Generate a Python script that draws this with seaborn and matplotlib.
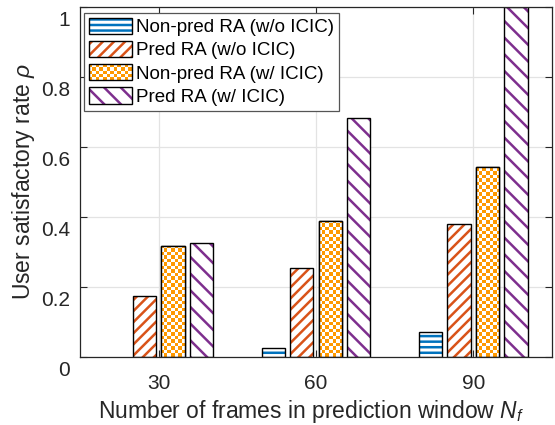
import numpy as np
import pandas as pd
import matplotlib
matplotlib.use("Agg")
import matplotlib.pyplot as plt
import seaborn as sns
from matplotlib.patches import Rectangle
from matplotlib.transforms import ScaledTranslation
from matplotlib.legend_handler import HandlerBase
from matplotlib.colors import ListedColormap

# ---- data ----
frames = ["30", "60", "90"]
series = ["Non-pred RA (w/o ICIC)", "Pred RA (w/o ICIC)",
          "Non-pred RA (w/ ICIC)", "Pred RA (w/ ICIC)"]
nonpred_wo = [0.0, 0.025, 0.072]
pred_wo = [0.174, 0.253, 0.379]
nonpred_w = [0.317, 0.389, 0.542]
pred_w = [0.326, 0.682, 0.999]
yticks = [0, 0.2, 0.4, 0.6, 0.8, 1]
ytick_labels = ["0", "0.2", "0.4", "0.6", "0.8", "1"]

colors = ["#0072BD", "#D95319", "#FF9900", "#7E2F8E"]
hatches = ["---", "///", None, "\\\\"]

rows = []
for s, vals in zip(series, [nonpred_wo, pred_wo, nonpred_w, pred_w]):
    for f, v in zip(frames, vals):
        rows.append({"frame": f, "series": s, "rate": v})
df = pd.DataFrame(rows)

sns.set_theme(style="white")
plt.rcParams["font.family"] = ["Liberation Sans", "DejaVu Sans"]
plt.rcParams["mathtext.fontset"] = "custom"
plt.rcParams["mathtext.it"] = "Liberation Sans:italic"
plt.rcParams["mathtext.rm"] = "Liberation Sans"
plt.rcParams["hatch.linewidth"] = 1.8
text_color = "#262626"

fig = plt.figure(figsize=(5.55, 4.25), dpi=100)
ax = fig.add_axes([80 / 555, 1 - 357 / 425, 472 / 555, 350 / 425])

sns.barplot(data=df, x="frame", y="rate", hue="series", hue_order=series,
            order=frames, palette=["white"] * 4, width=0.725, gap=0.18,
            edgecolor="black", linewidth=1.0, ax=ax, legend=False,
            errorbar=None, saturation=1)

ax.set_xlim(-0.5, 2.5)
ax.set_ylim(0, 1)

# style bars: hatch colored, black outline
bars = ax.patches[:]
nf = len(frames)
checker_patches = []
for i, p in enumerate(bars):
    si = i // nf
    x, y = p.get_x(), p.get_y()
    w, h = p.get_width(), p.get_height()
    if h <= 0:
        p.set_visible(False)
        continue
    if hatches[si] is not None:
        p.set_hatch(hatches[si])
        p.set_edgecolor(colors[si])
        p.set_linewidth(0)
    else:
        checker_patches.append(p)
    ax.add_patch(Rectangle((x, y), w, h, fill=False, edgecolor="black",
                           linewidth=1.0, zorder=p.get_zorder() + 0.5))

# checkerboard fill for orange bars
nx, ny = int(round(472 / 3.5)), int(round(350 / 3.5))
cb = (np.indices((ny, nx)).sum(axis=0) % 2).astype(float)
cmap = ListedColormap(["white", colors[2]])
for p in checker_patches:
    im = ax.imshow(cb, cmap=cmap, extent=[0, 1, 0, 1], transform=ax.transAxes,
                   interpolation="nearest", aspect="auto",
                   zorder=p.get_zorder() + 0.1)
    im.set_clip_path(p)
ax.set_xlim(-0.5, 2.5)
ax.set_ylim(0, 1)

# grid and ticks
ax.set_yticks(yticks)
ax.set_yticklabels(ytick_labels)
ax.grid(True, color="#e3e3e3", linewidth=0.9)
ax.set_axisbelow(True)
ax.tick_params(axis="both", direction="in", length=5, width=0.8,
               colors=text_color, labelsize=15, top=True, right=True,
               bottom=True, left=True)
ax.tick_params(axis="x", pad=12)
ax.tick_params(axis="y", pad=7)
for lab in ax.get_yticklabels():
    lab.set_transform(lab.get_transform() +
                      ScaledTranslation(0, -11 / 100, fig.dpi_scale_trans))
for sp in ax.spines.values():
    sp.set_color(text_color)
    sp.set_linewidth(0.9)

ax.set_xlabel(r"Number of frames in prediction window $N_f$", fontsize=16.5,
              color=text_color)
ax.xaxis.set_label_coords(0.489, -0.117, transform=ax.transAxes)
ax.xaxis.label.set_verticalalignment("top")
ax.set_ylabel(r"User satisfactory rate $\rho$", fontsize=16.5,
              color=text_color)
ax.yaxis.set_label_coords(-0.091, 0.5, transform=ax.transAxes)


# legend
class CheckerHandler(HandlerBase):
    def create_artists(self, legend, orig_handle, xdescent, ydescent,
                       width, height, fontsize, trans):
        arts = [Rectangle((-xdescent, -ydescent), width, height,
                          facecolor="white", edgecolor="none", transform=trans)]
        ncol, nrow = 12, 5
        cw, ch = width / ncol, height / nrow
        for r in range(nrow):
            for c in range(ncol):
                if (r + c) % 2 == 0:
                    arts.append(Rectangle((-xdescent + c * cw, -ydescent + r * ch),
                                          cw, ch, facecolor=colors[2],
                                          edgecolor="none", transform=trans))
        arts.append(Rectangle((-xdescent, -ydescent), width, height,
                              fill=False, edgecolor="black", linewidth=1.0,
                              transform=trans))
        return arts


class HatchHandler(HandlerBase):
    def create_artists(self, legend, orig_handle, xdescent, ydescent,
                       width, height, fontsize, trans):
        a = Rectangle((-xdescent, -ydescent), width, height, facecolor="white",
                      edgecolor=orig_handle.get_edgecolor(),
                      hatch=orig_handle.get_hatch(), linewidth=0, transform=trans)
        b = Rectangle((-xdescent, -ydescent), width, height, fill=False,
                      edgecolor="black", linewidth=1.0, transform=trans)
        return [a, b]


handles = []
for si in range(4):
    handles.append(Rectangle((0, 0), 1, 1, facecolor="white",
                             edgecolor=colors[si], hatch=hatches[si]))
hmap = {handles[0]: HatchHandler(), handles[1]: HatchHandler(),
        handles[2]: CheckerHandler(), handles[3]: HatchHandler()}
leg = ax.legend(handles, series, handler_map=hmap, loc="upper left",
                bbox_to_anchor=(4 / 472, 1 - 6 / 350), borderaxespad=0,
                fontsize=13.5, handlelength=2.3, handleheight=0.95,
                handletextpad=0.25, labelspacing=0.25, borderpad=0.25,
                frameon=True, fancybox=False, framealpha=1)
leg.get_frame().set_edgecolor("#555555")
leg.get_frame().set_linewidth(0.9)
for t in leg.get_texts():
    t.set_color("black")

fig.savefig("out.png", dpi=100)
